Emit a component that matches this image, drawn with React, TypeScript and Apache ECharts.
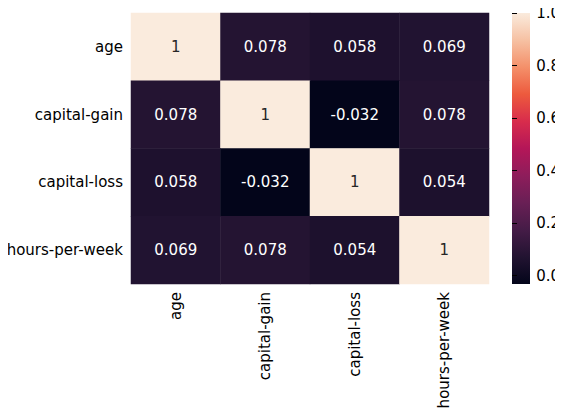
import { useEffect, useRef } from "react";
import * as echarts from "echarts";

const labels = ["age", "capital-gain", "capital-loss", "hours-per-week"];
const matrix = [
  [1, 0.078, 0.058, 0.069],
  [0.078, 1, -0.032, 0.078],
  [0.058, -0.032, 1, 0.054],
  [0.069, 0.078, 0.054, 1],
];
const cbTicks = [0, 0.2, 0.4, 0.6, 0.8, 1.0];
const rocket = ["#03051a", "#221331", "#451c47", "#691f55", "#8e1d5b", "#b41658", "#d82c4c", "#ed5a3d", "#f4906a", "#f6c1a3", "#faebdd"];
const vmin = -0.032, vmax = 1;

export default function App() {
  const ref = useRef<HTMLDivElement>(null);
  useEffect(() => {
    if (!ref.current) return;
    const ch = echarts.init(ref.current, null, { renderer: "svg" });
    const data: any[] = [];
    matrix.forEach((row, r) => row.forEach((v, c) => {
      data.push({
        value: [c, r, v],
        label: { color: v > 0.5 ? "#262626" : "#ffffff" },
      });
    }));
    const font = { fontFamily: "DejaVu Sans", fontSize: 15, color: "#000" };
    ch.setOption({
      animation: false,
      backgroundColor: "#fff",
      grid: [
        { left: 131, top: 13, width: 358, height: 271 },
        { left: 512, top: 13, width: 18, height: 271 },
      ],
      xAxis: [
        { type: "category", data: labels, gridIndex: 0, axisLine: { show: false }, axisTick: { length: 5, lineStyle: { color: "#000" } },
          axisLabel: { ...font, rotate: 90, margin: 8 }, splitLine: { show: false } },
        { type: "value", gridIndex: 1, show: false, min: 0, max: 1 },
      ],
      yAxis: [
        { type: "category", data: labels, inverse: true, gridIndex: 0, axisLine: { show: false }, axisTick: { length: 5, lineStyle: { color: "#000" } },
          axisLabel: { ...font, margin: 8 }, splitLine: { show: false } },
        { type: "value", gridIndex: 1, position: "right", min: vmin, max: vmax, axisLine: { show: false },
          axisTick: { show: true, length: 5, lineStyle: { color: "#000" }, customValues: cbTicks },
          axisLabel: { ...font, margin: 8, customValues: cbTicks, formatter: (v: number) => v.toFixed(1) },
          splitLine: { show: false } },
      ],
      visualMap: { show: false, min: vmin, max: vmax, seriesIndex: 0, dimension: 2, inRange: { color: rocket } },
      graphic: [{
        type: "rect", shape: { x: 512, y: 13, width: 18, height: 271 },
        style: { fill: new echarts.graphic.LinearGradient(0, 1, 0, 0, rocket.map((c, i) => ({ offset: i / (rocket.length - 1), color: c }))) },
      }],
      series: [
        { type: "heatmap", xAxisIndex: 0, yAxisIndex: 0, data,
          label: { show: true, fontFamily: "DejaVu Sans", fontSize: 15, formatter: (p: any) => String(p.value[2]) } },
        { type: "line", xAxisIndex: 1, yAxisIndex: 1, data: [] },
      ],
    });
    return () => ch.dispose();
  }, []);
  return <div ref={ref} style={{ width: 563, height: 417, margin: -8 }} />;
}
